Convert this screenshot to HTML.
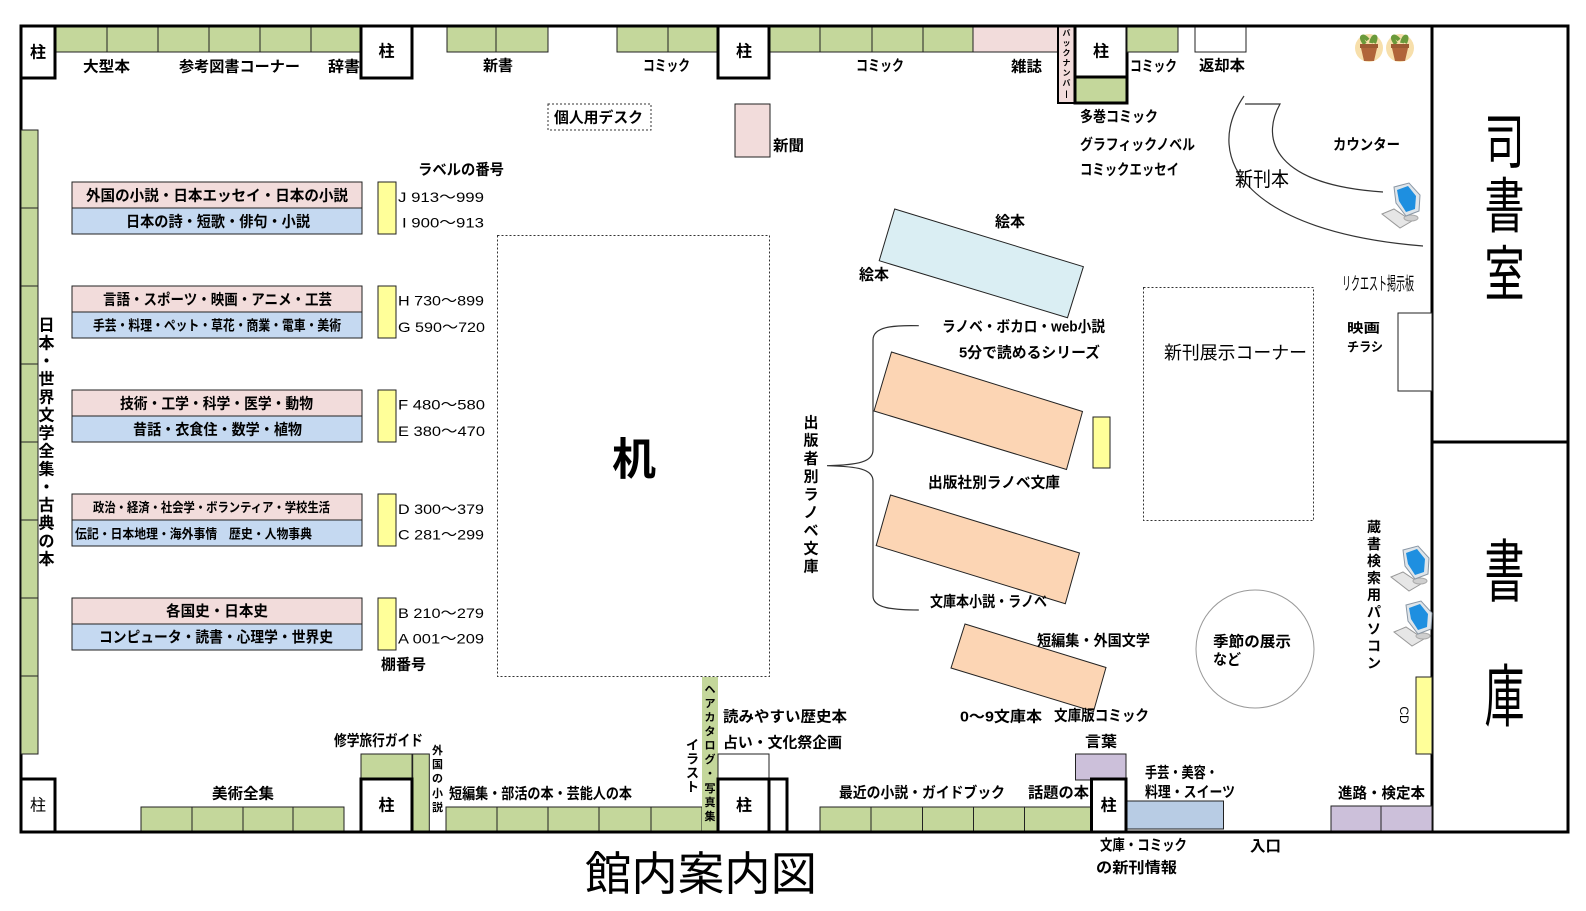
<!DOCTYPE html>
<html><head><meta charset="utf-8"><style>
html,body{margin:0;padding:0;background:#fff;}
svg{display:block;font-family:"Liberation Sans","Noto Sans CJK JP",sans-serif;font-weight:bold;font-size:15px;}
text{dominant-baseline:central;fill:#000;}
.n{font-weight:normal;}
.c{text-anchor:middle;}
.s14{font-size:14px;}
.s13{font-size:13px;}
.code{font-weight:normal;font-size:14px;}
.g{fill:#c4d79b;stroke:#222;stroke-width:1;}
.p{fill:#f2dcdb;stroke:#222;stroke-width:1;}
.b{fill:#c5d9f1;stroke:#222;stroke-width:1;}
.y{fill:#ffff99;stroke:#222;stroke-width:1;}
.pu{fill:#ccc0da;stroke:#222;stroke-width:1;}
.o{fill:#fcd5b4;stroke:#222;stroke-width:1;}
.w{fill:#fff;stroke:#222;stroke-width:1;}
.k{fill:#fff;stroke:#000;stroke-width:3;}
.kn{fill:none;stroke:#000;stroke-width:3;}
.d{fill:none;stroke:#333;stroke-width:1;stroke-dasharray:2,2;}
.ln{fill:none;stroke:#333;stroke-width:1.2;}
</style></head><body>
<svg width="1586" height="911" viewBox="0 0 1586 911" xmlns="http://www.w3.org/2000/svg">
<!-- outer -->
<rect x="21" y="26" width="1547" height="806" class="kn"/>
<line x1="1432" y1="26" x2="1432" y2="832" stroke="#000" stroke-width="3"/>
<line x1="1432" y1="442" x2="1568" y2="442" stroke="#000" stroke-width="3"/>

<!-- left wall shelves -->
<rect x="21" y="130" width="17" height="78" class="g"/>
<rect x="21" y="208" width="17" height="78" class="g"/>
<rect x="21" y="286" width="17" height="78" class="g"/>
<rect x="21" y="364" width="17" height="78" class="g"/>
<rect x="21" y="442" width="17" height="78" class="g"/>
<rect x="21" y="520" width="17" height="78" class="g"/>
<rect x="21" y="598" width="17" height="78" class="g"/>
<rect x="21" y="676" width="17" height="78" class="g"/>

<!-- top shelves -->
<rect x="55" y="26" width="52" height="26" class="g"/>
<rect x="107" y="26" width="51" height="26" class="g"/>
<rect x="158" y="26" width="51" height="26" class="g"/>
<rect x="209" y="26" width="51" height="26" class="g"/>
<rect x="260" y="26" width="51" height="26" class="g"/>
<rect x="311" y="26" width="50" height="26" class="g"/>
<rect x="447" y="26" width="49" height="26" class="g"/>
<rect x="496" y="26" width="52" height="26" class="g"/>
<rect x="617" y="26" width="51" height="26" class="g"/>
<rect x="668" y="26" width="50" height="26" class="g"/>
<rect x="769" y="26" width="51" height="26" class="g"/>
<rect x="820" y="26" width="52" height="26" class="g"/>
<rect x="872" y="26" width="51" height="26" class="g"/>
<rect x="923" y="26" width="50" height="26" class="g"/>
<rect x="973" y="26" width="85" height="26" class="p"/>
<rect x="1058" y="26" width="17" height="77" fill="#f2dcdb" stroke="#000" stroke-width="2"/>
<rect x="1075" y="77" width="52" height="26" class="g"/>
<rect x="1075" y="26" width="52" height="51" class="w"/>
<rect x="1075" y="26" width="52" height="77" class="kn"/>
<line x1="1075" y1="77" x2="1127" y2="77" stroke="#000" stroke-width="3"/>
<rect x="1127" y="26" width="51" height="26" class="g"/>
<rect x="1195" y="26" width="51" height="26" class="w"/>

<!-- top pillars -->
<rect x="21" y="26" width="34" height="52" class="k"/>
<rect x="361" y="26" width="51" height="52" class="k"/>
<rect x="718" y="26" width="51" height="52" class="k"/>
<line x1="21" y1="26" x2="1568" y2="26" stroke="#000" stroke-width="3"/>

<!-- left category boxes -->
<rect x="72" y="182" width="290" height="26" class="p"/><rect x="72" y="208" width="290" height="26" class="b"/>
<rect x="72" y="286" width="290" height="26" class="p"/><rect x="72" y="312" width="290" height="26" class="b"/>
<rect x="72" y="390" width="290" height="26" class="p"/><rect x="72" y="416" width="290" height="26" class="b"/>
<rect x="72" y="494" width="290" height="26" class="p"/><rect x="72" y="520" width="290" height="26" class="b"/>
<rect x="72" y="598" width="290" height="26" class="p"/><rect x="72" y="624" width="290" height="26" class="b"/>
<rect x="378" y="182" width="18" height="52" class="y"/>
<rect x="378" y="286" width="18" height="52" class="y"/>
<rect x="378" y="390" width="18" height="52" class="y"/>
<rect x="378" y="494" width="18" height="52" class="y"/>
<rect x="378" y="598" width="18" height="52" class="y"/>

<!-- dotted areas -->
<rect x="548" y="104" width="103" height="26" class="d"/>
<rect x="497.5" y="235.5" width="272" height="441" class="d"/>
<rect x="1143.5" y="287.5" width="170" height="233" class="d"/>
<rect x="735" y="104" width="35" height="53" class="p"/>

<!-- angled shelves -->
<polygon points="894.7,209 1083.4,266.7 1067.5,317.7 879.2,260.7" fill="#daeef3" stroke="#222" stroke-width="1"/>
<polygon points="891.5,352 1082.5,411.5 1066.5,469.5 874,411" class="o"/>
<polygon points="890.5,495 1079.5,553 1065.3,603.7 876.2,545.6" class="o"/>
<polygon points="965,624 1106,667.5 1093.5,711.5 951,668" class="o"/>
<rect x="1093" y="417" width="17" height="51" class="y"/>

<!-- brace -->
<path d="M918.8,325.7 C892,325 873,327 873,340 L873,450 C873,462 858,465 827,465.7 C858,466.5 873,469 873,481 L873,596 C873,608 892,610 918.8,610" class="ln"/>

<!-- counter arcs -->
<path d="M1244,96 C1200,160 1250,232 1423,246" class="ln"/>
<path d="M1245,104 L1280,104 C1260,140 1275,185 1383,192" class="ln"/>

<!-- circle -->
<circle cx="1255" cy="649" r="59" fill="none" stroke="#999" stroke-width="1"/>

<!-- right side -->
<rect x="1398" y="313" width="34" height="78" class="w"/>
<rect x="1416" y="677" width="16" height="77" class="y"/>
<rect x="1331" y="806" width="50" height="26" class="pu"/>
<rect x="1381" y="806" width="51" height="26" class="pu"/>

<!-- bottom shelves -->
<rect x="141" y="807" width="51" height="25" class="g"/>
<rect x="192" y="807" width="51" height="25" class="g"/>
<rect x="243" y="807" width="50" height="25" class="g"/>
<rect x="293" y="807" width="51" height="25" class="g"/>
<rect x="361" y="754" width="51" height="25" class="g"/>
<rect x="412.7" y="754" width="16.6" height="78" class="g"/>
<rect x="446" y="807" width="51" height="25" class="g"/>
<rect x="497" y="807" width="51" height="25" class="g"/>
<rect x="548" y="807" width="51" height="25" class="g"/>
<rect x="599" y="807" width="52" height="25" class="g"/>
<rect x="651" y="807" width="51" height="25" class="g"/>
<rect x="702" y="677" width="16" height="155" fill="#c4d79b"/>
<rect x="718" y="754" width="51" height="25" class="w"/>
<rect x="820" y="807" width="51" height="25" class="g"/>
<rect x="871" y="807" width="51.5" height="25" class="g"/>
<rect x="922.5" y="807" width="51" height="25" class="g"/>
<rect x="973.5" y="807" width="51" height="25" class="g"/>
<rect x="1024.5" y="807" width="67" height="25" class="g"/>
<rect x="1075.5" y="754" width="50.5" height="26" class="pu"/>
<rect x="1126" y="801" width="97.5" height="28" fill="#b8cce4" stroke="#222" stroke-width="1"/>

<!-- bottom pillars -->
<rect x="21" y="779" width="34" height="53" class="k"/>
<rect x="361" y="779" width="51" height="53" class="k"/>
<rect x="718" y="779" width="51" height="53" class="k"/>
<rect x="769" y="779" width="18" height="53" class="k"/>
<rect x="1091.5" y="779" width="34.5" height="53" class="k"/>
<line x1="21" y1="832" x2="1568" y2="832" stroke="#000" stroke-width="3"/>

<!-- plants -->
<g transform="translate(1369,48)">
<circle r="14" fill="#f7dfab"/>
<path d="M-4,-4 C-10,-12 -6,-14 -1,-8 M2,-5 C4,-14 9,-13 5,-5" stroke="#6a9a3a" stroke-width="4" fill="none"/>
<rect x="-9" y="-4" width="18" height="4" fill="#9c5a32"/>
<polygon points="-8,0 8,0 5,13 -5,13" fill="#b0653a"/>
</g>
<g transform="translate(1400,48)">
<circle r="14" fill="#f7dfab"/>
<path d="M-4,-4 C-10,-12 -6,-14 -1,-8 M2,-5 C4,-14 9,-13 5,-5" stroke="#6a9a3a" stroke-width="4" fill="none"/>
<rect x="-9" y="-4" width="18" height="4" fill="#9c5a32"/>
<polygon points="-8,0 8,0 5,13 -5,13" fill="#b0653a"/>
</g>

<!-- computers -->
<g transform="translate(1381,183)">
<polygon points="1,31 13,26 31,38 19,45" fill="#e6e6e6" stroke="#999" stroke-width="1"/>
<ellipse cx="30" cy="35" rx="7" ry="3" fill="#cfcfcf" stroke="#aaa"/>
<polygon points="13,4 28,0 39,12 38,28 25,33 15,20" fill="#dfe5ea" stroke="#8a97a5" stroke-width="1"/>
<polygon points="16,7 27,3 35,13 34,26 25,29 18,18" fill="#1e8fe0"/>
</g>
<g transform="translate(1390,546)">
<polygon points="1,31 13,26 31,38 19,45" fill="#e6e6e6" stroke="#999" stroke-width="1"/>
<ellipse cx="30" cy="35" rx="7" ry="3" fill="#cfcfcf" stroke="#aaa"/>
<polygon points="13,4 28,0 39,12 38,28 25,33 15,20" fill="#dfe5ea" stroke="#8a97a5" stroke-width="1"/>
<polygon points="16,7 27,3 35,13 34,26 25,29 18,18" fill="#1e8fe0"/>
</g>
<g transform="translate(1393,601)">
<polygon points="1,31 13,26 31,38 19,45" fill="#e6e6e6" stroke="#999" stroke-width="1"/>
<ellipse cx="30" cy="35" rx="7" ry="3" fill="#cfcfcf" stroke="#aaa"/>
<polygon points="13,4 28,0 39,12 38,28 25,33 15,20" fill="#dfe5ea" stroke="#8a97a5" stroke-width="1"/>
<polygon points="16,7 27,3 35,13 34,26 25,29 18,18" fill="#1e8fe0"/>
</g>

<!-- pillar labels -->
<text class="c" x="38" y="53" style="font-size:16px">柱</text>
<text class="c" x="386.5" y="52" style="font-size:16px">柱</text>
<text class="c" x="744" y="52" style="font-size:16px">柱</text>
<text class="c" x="1101" y="52" style="font-size:16px">柱</text>
<text class="c n" x="38" y="806" style="font-size:16px">柱</text>
<text class="c" x="386.5" y="806" style="font-size:16px">柱</text>
<text class="c" x="744" y="806" style="font-size:16px">柱</text>
<text class="c" x="1108.6" y="806" style="font-size:16px">柱</text>

<!-- top labels -->
<text x="83" y="67" textLength="47" lengthAdjust="spacingAndGlyphs">大型本</text>
<text x="179" y="67" textLength="121" lengthAdjust="spacingAndGlyphs">参考図書コーナー</text>
<text x="328" y="67" textLength="32" lengthAdjust="spacingAndGlyphs">辞書</text>
<text x="483" y="66" textLength="30" lengthAdjust="spacingAndGlyphs">新書</text>
<text x="643" y="66" textLength="47" lengthAdjust="spacingAndGlyphs">コミック</text>
<text x="856" y="66" textLength="48" lengthAdjust="spacingAndGlyphs">コミック</text>
<text x="1011" y="67" textLength="31" lengthAdjust="spacingAndGlyphs">雑誌</text>
<text x="1130" y="66.5" textLength="47" lengthAdjust="spacingAndGlyphs">コミック</text>
<text x="1199" y="66" textLength="46" lengthAdjust="spacingAndGlyphs">返却本</text>
<text x="1080" y="117" textLength="78" lengthAdjust="spacingAndGlyphs">多巻コミック</text>
<text x="1080" y="145" textLength="115" lengthAdjust="spacingAndGlyphs">グラフィックノベル</text>
<text x="1080" y="170" textLength="99" lengthAdjust="spacingAndGlyphs">コミックエッセイ</text>
<text x="1333" y="145" textLength="67" lengthAdjust="spacingAndGlyphs">カウンター</text>
<text x="554" y="118" textLength="89" lengthAdjust="spacingAndGlyphs">個人用デスク</text>
<text x="773" y="146" textLength="31" lengthAdjust="spacingAndGlyphs">新聞</text>
<text x="418" y="170" textLength="86" lengthAdjust="spacingAndGlyphs">ラベルの番号</text>

<!-- box labels -->
<text x="86" y="196" textLength="262" lengthAdjust="spacingAndGlyphs">外国の小説・日本エッセイ・日本の小説</text>
<text x="126" y="222" textLength="184" lengthAdjust="spacingAndGlyphs">日本の詩・短歌・俳句・小説</text>
<text x="103" y="300" textLength="229" lengthAdjust="spacingAndGlyphs">言語・スポーツ・映画・アニメ・工芸</text>
<text class="s14" x="93" y="325.5" textLength="248" lengthAdjust="spacingAndGlyphs">手芸・料理・ペット・草花・商業・電車・美術</text>
<text x="120" y="404" textLength="193" lengthAdjust="spacingAndGlyphs">技術・工学・科学・医学・動物</text>
<text x="133" y="430" textLength="169" lengthAdjust="spacingAndGlyphs">昔話・衣食住・数学・植物</text>
<text class="s13" x="93" y="507.5" textLength="237" lengthAdjust="spacingAndGlyphs">政治・経済・社会学・ボランティア・学校生活</text>
<text class="s13" x="75" y="534" textLength="237" lengthAdjust="spacingAndGlyphs">伝記・日本地理・海外事情　歴史・人物事典</text>
<text x="166" y="611.7" textLength="102" lengthAdjust="spacingAndGlyphs">各国史・日本史</text>
<text x="99" y="637.5" textLength="234" lengthAdjust="spacingAndGlyphs">コンピュータ・読書・心理学・世界史</text>

<!-- codes -->
<text class="code" x="398" y="197" textLength="86" lengthAdjust="spacingAndGlyphs">J 913～999</text>
<text class="code" x="402" y="222.7" textLength="82" lengthAdjust="spacingAndGlyphs">I 900～913</text>
<text class="code" x="398" y="300.7" textLength="86" lengthAdjust="spacingAndGlyphs">H 730～899</text>
<text class="code" x="398" y="327" textLength="87" lengthAdjust="spacingAndGlyphs">G 590～720</text>
<text class="code" x="398" y="404.7" textLength="87" lengthAdjust="spacingAndGlyphs">F 480～580</text>
<text class="code" x="398" y="431" textLength="87" lengthAdjust="spacingAndGlyphs">E 380～470</text>
<text class="code" x="398" y="509" textLength="86" lengthAdjust="spacingAndGlyphs">D 300～379</text>
<text class="code" x="398" y="534.7" textLength="86" lengthAdjust="spacingAndGlyphs">C 281～299</text>
<text class="code" x="398" y="613" textLength="86" lengthAdjust="spacingAndGlyphs">B 210～279</text>
<text class="code" x="398" y="638.7" textLength="86" lengthAdjust="spacingAndGlyphs">A 001～209</text>
<text x="381" y="665" textLength="45" lengthAdjust="spacingAndGlyphs">棚番号</text>

<!-- desk -->
<text class="c" x="634" y="460" style="font-size:44px">机</text>

<!-- center labels -->
<text x="995" y="222" textLength="30" lengthAdjust="spacingAndGlyphs">絵本</text>
<text x="859" y="275" textLength="30" lengthAdjust="spacingAndGlyphs">絵本</text>
<text x="942" y="327" textLength="163" lengthAdjust="spacingAndGlyphs">ラノベ・ボカロ・web小説</text>
<text x="959" y="353" textLength="141" lengthAdjust="spacingAndGlyphs">5分で読めるシリーズ</text>
<text x="928" y="483" textLength="132" lengthAdjust="spacingAndGlyphs">出版社別ラノベ文庫</text>
<text x="930" y="602" textLength="117" lengthAdjust="spacingAndGlyphs">文庫本小説・ラノベ</text>
<text x="1037" y="641" textLength="113" lengthAdjust="spacingAndGlyphs">短編集・外国文学</text>
<text x="960" y="717" textLength="82" lengthAdjust="spacingAndGlyphs">0～9文庫本</text>
<text x="1054" y="716" textLength="95" lengthAdjust="spacingAndGlyphs">文庫版コミック</text>
<text x="1213" y="642" textLength="78" lengthAdjust="spacingAndGlyphs">季節の展示</text>
<text x="1213" y="660" textLength="28" lengthAdjust="spacingAndGlyphs">など</text>
<text class="n" x="1164" y="353" style="font-size:18px" textLength="143" lengthAdjust="spacingAndGlyphs">新刊展示コーナー</text>
<text class="n" x="1235" y="180" style="font-size:20px" textLength="54" lengthAdjust="spacingAndGlyphs">新刊本</text>
<text class="n" x="1342" y="284" style="font-size:18px" textLength="72" lengthAdjust="spacingAndGlyphs">リクエスト掲示板</text>
<text class="s13" x="1347" y="328" textLength="33" lengthAdjust="spacingAndGlyphs">映画</text>
<text class="s13" x="1347" y="347" textLength="36" lengthAdjust="spacingAndGlyphs">チラシ</text>

<!-- bottom labels -->
<text x="334" y="741" textLength="89" lengthAdjust="spacingAndGlyphs">修学旅行ガイド</text>
<text x="212" y="794" textLength="62" lengthAdjust="spacingAndGlyphs">美術全集</text>
<text x="449" y="794" textLength="183" lengthAdjust="spacingAndGlyphs">短編集・部活の本・芸能人の本</text>
<text x="723" y="717" textLength="124" lengthAdjust="spacingAndGlyphs">読みやすい歴史本</text>
<text x="723" y="743" textLength="119" lengthAdjust="spacingAndGlyphs">占い・文化祭企画</text>
<text x="839" y="793" textLength="166" lengthAdjust="spacingAndGlyphs">最近の小説・ガイドブック</text>
<text x="1028" y="793" textLength="61" lengthAdjust="spacingAndGlyphs">話題の本</text>
<text x="1085" y="742" textLength="32" lengthAdjust="spacingAndGlyphs">言葉</text>
<text x="1145" y="773" textLength="73" lengthAdjust="spacingAndGlyphs">手芸・美容・</text>
<text x="1145" y="792.5" textLength="90" lengthAdjust="spacingAndGlyphs">料理・スイーツ</text>
<text x="1338" y="793.5" textLength="87" lengthAdjust="spacingAndGlyphs">進路・検定本</text>
<text x="1100" y="845.5" textLength="87" lengthAdjust="spacingAndGlyphs">文庫・コミック</text>
<text x="1096" y="868" textLength="81" lengthAdjust="spacingAndGlyphs">の新刊情報</text>
<text x="1250" y="846.5" textLength="31" lengthAdjust="spacingAndGlyphs">入口</text>
<text class="n" x="585" y="874" style="font-size:46px" textLength="232" lengthAdjust="spacingAndGlyphs">館内案内図</text>

<!-- CD -->
<text class="n c" transform="translate(1404,715) rotate(90)" style="font-size:12px">CD</text>

<!-- vertical: 日本・世界文学全集・古典の本 -->
<g style="font-size:16px">
<text class="c" x="46.5" y="326">日</text>
<text class="c" x="46.5" y="344">本</text>
<text class="c" x="46.5" y="362">・</text>
<text class="c" x="46.5" y="380">世</text>
<text class="c" x="46.5" y="398">界</text>
<text class="c" x="46.5" y="416">文</text>
<text class="c" x="46.5" y="434">学</text>
<text class="c" x="46.5" y="452">全</text>
<text class="c" x="46.5" y="470">集</text>
<text class="c" x="46.5" y="488">・</text>
<text class="c" x="46.5" y="506">古</text>
<text class="c" x="46.5" y="524">典</text>
<text class="c" x="46.5" y="542">の</text>
<text class="c" x="46.5" y="560">本</text>
</g>

<!-- vertical: 出版者別ラノベ文庫 -->
<g style="font-size:15px">
<text class="c" x="811" y="423">出</text>
<text class="c" x="811" y="441">版</text>
<text class="c" x="811" y="459">者</text>
<text class="c" x="811" y="477">別</text>
<text class="c" x="811" y="495">ラ</text>
<text class="c" x="811" y="513">ノ</text>
<text class="c" x="811" y="531">ベ</text>
<text class="c" x="811" y="549">文</text>
<text class="c" x="811" y="567">庫</text>
</g>

<!-- vertical: 蔵書検索用パソコン -->
<g style="font-size:14px">
<text class="c" x="1374" y="527">蔵</text>
<text class="c" x="1374" y="544">書</text>
<text class="c" x="1374" y="561">検</text>
<text class="c" x="1374" y="578">索</text>
<text class="c" x="1374" y="595">用</text>
<text class="c" x="1374" y="612">パ</text>
<text class="c" x="1374" y="629">ソ</text>
<text class="c" x="1374" y="646">コ</text>
<text class="c" x="1374" y="663">ン</text>
</g>

<!-- vertical: 外国の小説 -->
<g style="font-size:11px">
<text class="c" x="437.5" y="751">外</text>
<text class="c" x="437.5" y="765">国</text>
<text class="c" x="437.5" y="779">の</text>
<text class="c" x="437.5" y="794">小</text>
<text class="c" x="437.5" y="808">説</text>
</g>

<!-- vertical: ヘアカタログ・写真集 -->
<g style="font-size:11px">
<text class="c" x="710" y="690">ヘ</text>
<text class="c" x="710" y="704">ア</text>
<text class="c" x="710" y="718">カ</text>
<text class="c" x="710" y="732">タ</text>
<text class="c" x="710" y="746">ロ</text>
<text class="c" x="710" y="760">グ</text>
<text class="c" x="710" y="774">・</text>
<text class="c" x="710" y="789">写</text>
<text class="c" x="710" y="803">真</text>
<text class="c" x="710" y="817">集</text>
</g>

<!-- vertical: イラスト -->
<g style="font-size:13px">
<text class="c" x="692.5" y="745">イ</text>
<text class="c" x="692.5" y="759">ラ</text>
<text class="c" x="692.5" y="773">ス</text>
<text class="c" x="692.5" y="787">ト</text>
</g>

<!-- vertical: バックナンバー -->
<g style="font-size:8px">
<text class="c" x="1066.5" y="33">バ</text>
<text class="c" x="1066.5" y="43">ッ</text>
<text class="c" x="1066.5" y="53">ク</text>
<text class="c" x="1066.5" y="63">ナ</text>
<text class="c" x="1066.5" y="73">ン</text>
<text class="c" x="1066.5" y="83">バ</text>
<text class="c" x="1066.5" y="94">|</text>
</g>

<!-- rooms -->
<text class="c n" style="font-size:40px" transform="translate(1504.5,143) scale(1,1.5)" x="0" y="0">司</text>
<text class="c n" style="font-size:40px" transform="translate(1504.5,207) scale(1,1.5)" x="0" y="0">書</text>
<text class="c n" style="font-size:40px" transform="translate(1504.5,275) scale(1,1.5)" x="0" y="0">室</text>
<text class="c n" style="font-size:40px" transform="translate(1504.5,573) scale(1,1.7)" x="0" y="0">書</text>
<text class="c n" style="font-size:40px" transform="translate(1504.5,698) scale(1,1.7)" x="0" y="0">庫</text>
</svg>
</body></html>
